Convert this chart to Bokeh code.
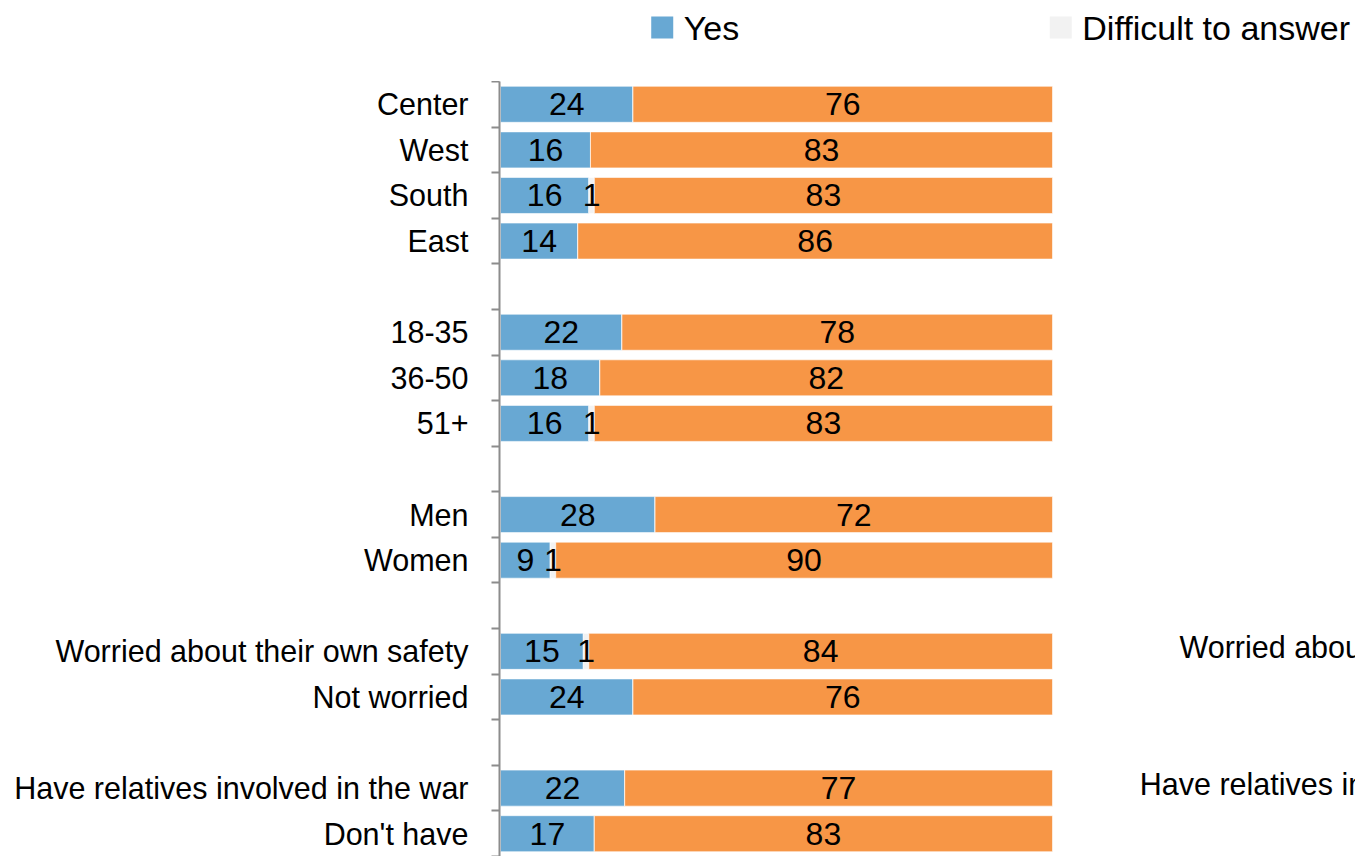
from bokeh.plotting import figure
from bokeh.layouts import column
from bokeh.models import Range1d, FixedTicker, ColumnDataSource, Label
from bokeh.embed import file_html
from bokeh.resources import INLINE
from bokeh.core.properties import value

# ---------------- data ----------------
categories = ["Center", "West", "South", "East",
              "18-35", "36-50", "51+",
              "Men", "Women",
              "Worried about their own safety", "Not worried",
              "Have relatives involved in the war", "Don't have"]
group_sizes = [4, 3, 2, 2, 2]
yes = [24, 16.3, 16, 14, 22, 18, 16, 28, 9, 15, 24, 22.5, 17]
difficult = [0, 0, 1, 0, 0, 0, 1, 0, 1, 1, 0, 0, 0]
no = [76, 83.7, 83, 86, 78, 82, 83, 72, 90, 84, 76, 77.5, 83]
series_names = ["Yes", "Difficult to answer", "No"]
colors = ["#68A8D3", "#F2F2F2", "#F79646"]
legend_series = [0, 1]          # series shown in the legend
side_notes = ["Worried about their own safety", "Have relatives involved in the war"]

FONT = "'Liberation Sans', Arial, sans-serif"
W = 1355
ML = 499
PX_PER_PCT = 5.52
shared_x = Range1d(-0.18, -0.18 + (W - ML) / PX_PER_PCT)

# ---------------- legend strip (frame aligned with main chart) ----------------
LH = 81
lg = figure(width=W, height=LH, x_range=shared_x, y_range=Range1d(LH, 0),
            output_backend="svg", toolbar_location=None,
            x_axis_location=None, y_axis_location=None,
            min_border_left=ML, min_border_right=0, min_border_top=0, min_border_bottom=0)
lg.outline_line_color = None
lg.xgrid.visible = False
lg.ygrid.visible = False
leg_x = [29.3, 101.5]           # legend entry positions along the chart's x scale
lg.scatter(x=leg_x, y=[27, 27], marker="square", size=22,
           fill_color=[colors[i] for i in legend_series], line_color=None)
lg.text(x=[x + 3.9 for x in leg_x], y=[27, 27], text=[series_names[i] for i in legend_series],
        text_align="left", text_baseline="middle", text_font=value(FONT),
        text_font_size="34px", text_color="black")

# ---------------- main chart ----------------
rows = []
r = 0
for gi, n in enumerate(group_sizes):
    for k in range(n):
        rows.append(r + 0.5)
        r += 1
    if gi < len(group_sizes) - 1:
        r += 1
n_rows = r

p = figure(width=W, height=775, x_range=shared_x, y_range=Range1d(n_rows, 0),
           output_backend="svg", toolbar_location=None, x_axis_location=None,
           min_border_left=ML, min_border_right=0, min_border_top=0, min_border_bottom=0)
p.outline_line_color = None
p.xgrid.visible = False
p.ygrid.visible = False

yl = p.yaxis[0]
yl.ticker = FixedTicker(ticks=rows, minor_ticks=list(range(n_rows + 1)))
yl.major_label_overrides = {float(rw): c for rw, c in zip(rows, categories)}
yl.major_tick_out = 0
yl.major_tick_in = 0
yl.minor_tick_out = 8
yl.minor_tick_in = 0
yl.minor_tick_line_color = "#8C8C8C"
yl.minor_tick_line_width = 2
yl.axis_line_color = "#8C8C8C"
yl.axis_line_width = 2
yl.major_label_text_font = FONT
yl.major_label_text_font_size = "30.5px"
yl.major_label_text_color = "black"
yl.major_label_standoff = 23

series = [yes, difficult, no]
left = [0.0] * len(categories)
lx, ly, lt = [], [], []
for name, vals, col in zip(series_names, series, colors):
    right = [a + b for a, b in zip(left, vals)]
    src = ColumnDataSource(dict(y=rows, left=left, right=right))
    p.hbar(y="y", left="left", right="right", height=0.79, source=src,
           fill_color=col, line_color="white", line_width=1, line_alpha=0.6)
    for yv, a, b, v in zip(rows, left, right, vals):
        if int(v) > 0:
            lx.append((a + b) / 2)
            ly.append(yv)
            lt.append(str(int(v)))
    left = right

p.text(x=lx, y=ly, text=lt, text_align="center", text_baseline="middle",
       text_font=value(FONT), text_font_size="32px", text_color="black")

note_x = [123.0, 115.8]
for note, nx in zip(side_notes, note_x):
    rw = rows[categories.index(note)]
    p.add_layout(Label(x=nx, y=rw - 0.09, text=note, text_align="left", text_baseline="middle",
                       text_font=FONT, text_font_size="30.5px", text_color="black"))

layout = column(lg, p, spacing=0)
open("out.html", "w").write(file_html(layout, INLINE))
